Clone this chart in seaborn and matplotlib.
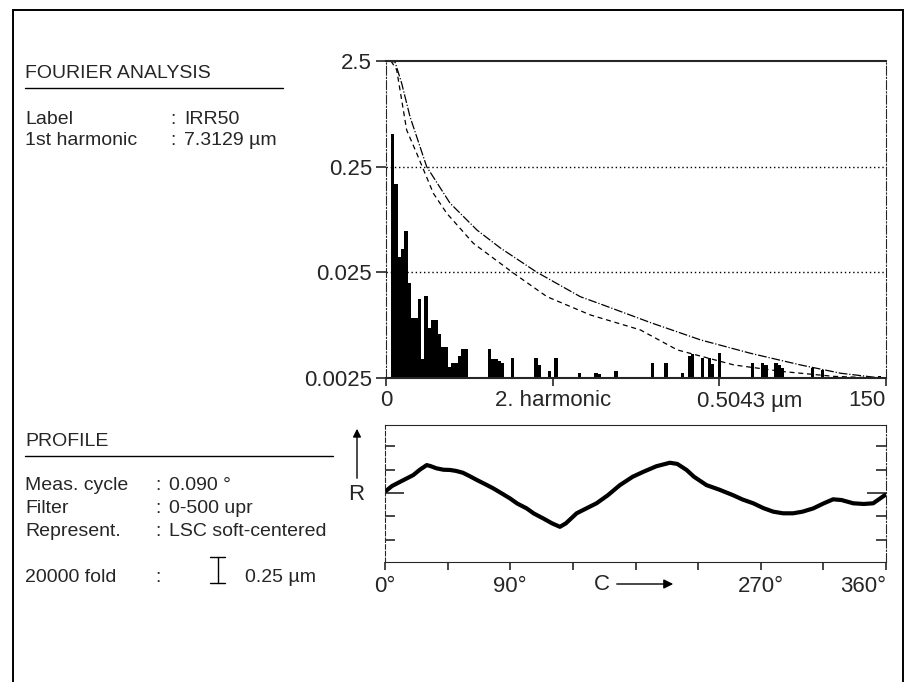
import matplotlib
matplotlib.use('Agg')
import matplotlib.pyplot as plt
from matplotlib.lines import Line2D
from matplotlib.patches import Rectangle
from matplotlib.ticker import NullLocator
import seaborn as sns

sns.set_style('ticks')
plt.rcParams['font.family'] = ['Liberation Sans', 'DejaVu Sans']
plt.rcParams['font.size'] = 14

# --- Fourier spectrum (harmonic number -> amplitude in um)
harmonics = [2, 3, 4, 5, 6, 7, 8, 9, 10, 11, 12, 13, 14, 15, 16, 17, 18, 19, 20,
             21, 22, 23, 24, 31, 32, 33, 34, 35, 38, 45, 46, 49, 51, 58, 63, 64,
             69, 80, 84, 89, 91, 92, 95, 97, 98, 100, 110, 113, 114, 117, 118,
             119, 128, 131, 148]
amplitudes = [0.5043, 0.17, 0.035, 0.042, 0.061, 0.0197, 0.0092, 0.0092, 0.014,
              0.0038, 0.0149, 0.0074, 0.0088, 0.0088, 0.0065, 0.0049, 0.0049,
              0.0032, 0.0035, 0.0035, 0.0040, 0.0047, 0.0047, 0.0047, 0.0038,
              0.0038, 0.0036, 0.0035, 0.0039, 0.0039, 0.0033, 0.0029, 0.0039,
              0.0028, 0.0028, 0.0027, 0.0029, 0.0035, 0.0035, 0.0028, 0.0040,
              0.0042, 0.0039, 0.0039, 0.0034, 0.0043, 0.0035, 0.0035, 0.0033,
              0.0035, 0.0033, 0.0031, 0.0031, 0.0030, 0.0026]

# limit curves
upper_h = [0.5, 2.7, 4.7, 7.2, 12.2, 19.2, 27.3, 34.3, 45.3, 58.3, 64.3, 79.4,
           94.4, 109.4, 124.4, 136.5, 148.5]
upper_v = [2.5, 2.45, 1.54, 0.743, 0.25, 0.113, 0.0628, 0.0425, 0.025, 0.0147,
           0.01255, 0.00835, 0.00573, 0.00428, 0.00332, 0.00277, 0.0025]
lower_h = [1.5, 3.2, 6.2, 9.2, 14.2, 18.2, 26.2, 38.3, 48.3, 61.3, 76.3, 87.4,
           104.4, 119.4, 134.4, 147.5]
lower_v = [2.5, 2.06, 0.555, 0.335, 0.14, 0.0907, 0.0471, 0.0245, 0.0147,
           0.00988, 0.00713, 0.00461, 0.00332, 0.00287, 0.00259, 0.0025]

y_ticks = [0.0025, 0.025, 0.25, 2.5]
y_ticklabels = ['0.0025', '0.025', '0.25', '2.5']
x_ticks = [0, 50, 100, 150]
x_ticklabels = ['0', '2. harmonic', '', '150']

# --- roundness profile (angle in deg -> deviation, in scale divisions)
angle = [0.7, 5, 10.8, 20.3, 25, 30, 33, 37, 42, 46.7, 51, 56, 61, 66, 72, 77.8,
         84, 89.8, 95, 101.8, 107, 113.7, 120, 125.7, 130, 137.7, 145, 152, 160,
         168.8, 178, 185.6, 195, 204.7, 210, 216.7, 222, 231, 240, 250, 257,
         264.6, 272, 279, 286, 293.3, 300, 307.7, 315, 322, 328, 336.4, 344,
         350.8, 359.2]
deviation = [0.09, 0.3, 0.48, 0.77, 1.0, 1.2, 1.15, 1.06, 1.0, 0.99, 0.95, 0.87,
             0.72, 0.56, 0.38, 0.2, -0.02, -0.23, -0.45, -0.66, -0.88, -1.09,
             -1.3, -1.45, -1.3, -0.87, -0.65, -0.44, -0.1, 0.34, 0.7, 0.91, 1.15,
             1.3, 1.25, 0.99, 0.7, 0.34, 0.15, -0.09, -0.28, -0.44, -0.65, -0.8,
             -0.87, -0.87, -0.8, -0.66, -0.45, -0.27, -0.3, -0.44, -0.47, -0.44,
             -0.09]
deg_ticks = [0, 45, 90, 135, 180, 225, 270, 315, 360]
deg_labels = ['0°', '', '90°', '', '', '', '270°', '', '360°']

W, H = 905, 682


def fx(px):
    return px / W


def fy(py):
    return 1 - py / H


fig = plt.figure(figsize=(W / 100, H / 100), dpi=100)

# outer frame
fig.add_artist(Rectangle((fx(13), -0.05), fx(903) - fx(13), fy(10) + 0.05,
                         transform=fig.transFigure, fill=False, lw=1.4, color='black'))

# ---------------- Fourier plot
ax = fig.add_axes([fx(386), fy(378), fx(886) - fx(386), fy(61) - fy(378)])
sns.barplot(x=harmonics, y=amplitudes, native_scale=True, width=1, color='black',
            saturation=1, errorbar=None, linewidth=0, ax=ax)
sns.lineplot(x=upper_h, y=upper_v, color='black', lw=0.9,
             linestyle=(0, (7, 1.5, 1, 1.5)), ax=ax)
sns.lineplot(x=lower_h, y=lower_v, color='black', lw=0.9,
             linestyle=(0, (4, 3)), ax=ax)
ax.set_yscale('log')
ax.set_ylim(0.0025, 2.5)
ax.set_xlim(0, 150)
for v in (0.25, 0.025):
    ax.axhline(v, color='black', lw=1, ls=(0, (1, 2)))
ax.set_yticks(y_ticks)
ax.set_yticklabels(y_ticklabels)
ax.yaxis.set_minor_locator(NullLocator())
ax.set_xticks(x_ticks)
ax.set_xticklabels(x_ticklabels)
ax.get_xticklabels()[3].set_ha('right')
ax.tick_params(axis='y', length=7, width=1.2, pad=3, labelsize=16)
ax.tick_params(axis='x', length=6, width=1.2, pad=3, labelsize=16)
ax.annotate('0.5043 µm', xy=(100, 0), xycoords=('data', 'axes fraction'),
            xytext=(30, -13), textcoords='offset pixels', ha='center', va='top',
            fontsize=16)
ax.spines['left'].set_linestyle((0, (8, 2, 1, 2)))
ax.spines['right'].set_linestyle((0, (8, 2, 1, 2)))
for s in ('top', 'bottom'):
    ax.spines[s].set_linewidth(1.5)
ax.set_xlabel('')
ax.set_ylabel('')

# ---------------- profile plot
ax2 = fig.add_axes([fx(385), fy(562), fx(886) - fx(385), fy(425) - fy(562)])
sns.lineplot(x=angle, y=deviation, color='black', lw=3, ax=ax2)
ax2.set_xlim(0, 360)
ax2.set_ylim(-2.96, 2.92)
ax2.set_xticks(deg_ticks)
ax2.set_xticklabels(deg_labels)
ax2.get_xticklabels()[8].set_ha('right')
ax2.tick_params(axis='x', length=6, width=1.2, pad=4, labelsize=16)
ax2.set_yticks([-2, -1, 1, 2])
ax2.set_yticklabels([])
ax2.set_yticks([0], minor=True)
ax2.tick_params(axis='y', which='major', direction='in', left=True, right=True,
                length=7, width=1.2)
ax2.tick_params(axis='y', which='minor', direction='in', left=True, right=True,
                length=14, width=1.2)
ax2.spines['left'].set_linestyle((0, (4, 2)))
ax2.spines['right'].set_linestyle((0, (8, 2, 1, 2)))
ax2.set_xlabel('')
ax2.set_ylabel('')

fig.text(fx(602), fy(585), 'C', ha='center', va='center', fontsize=16)
ax2.annotate('', xy=(fx(676), fy(584)), xytext=(fx(614), fy(584)),
             xycoords='figure fraction',
             arrowprops=dict(arrowstyle='-|>', color='black', lw=1, mutation_scale=14))
fig.text(fx(356), fy(495), 'R', ha='center', va='center', fontsize=16)
ax2.annotate('', xy=(fx(357), fy(426)), xytext=(fx(357), fy(481)),
             xycoords='figure fraction',
             arrowprops=dict(arrowstyle='-|>', color='black', lw=1, mutation_scale=12))

# ---------------- text blocks
fig.text(fx(25), fy(78), 'FOURIER ANALYSIS', va='baseline')
fig.add_artist(Line2D([fx(25), fx(283)], [fy(88), fy(88)], color='black', lw=1,
                      transform=fig.transFigure))
for label, value, y in [('Label', 'IRR50', 124), ('1st harmonic', '7.3129 µm', 145)]:
    fig.text(fx(25), fy(y), label, va='baseline')
    fig.text(fx(170), fy(y), ':', va='baseline')
    fig.text(fx(184), fy(y), value, va='baseline')

fig.text(fx(25), fy(446), 'PROFILE', va='baseline')
fig.add_artist(Line2D([fx(25), fx(333)], [fy(456), fy(456)], color='black', lw=1,
                      transform=fig.transFigure))
for label, value, y in [('Meas. cycle', '0.090 °', 490), ('Filter', '0-500 upr', 513),
                        ('Represent.', 'LSC soft-centered', 536)]:
    fig.text(fx(25), fy(y), label, va='baseline')
    fig.text(fx(155), fy(y), ':', va='baseline')
    fig.text(fx(169), fy(y), value, va='baseline')
fig.text(fx(25), fy(582), '20000 fold', va='baseline')
fig.text(fx(155), fy(582), ':', va='baseline')
fig.text(fx(245), fy(582), '0.25 µm', va='baseline')
for xs, ys in [([217.5, 217.5], [557, 583]), ([210, 225], [557, 557]), ([210, 225], [583, 583])]:
    fig.add_artist(Line2D([fx(x) for x in xs], [fy(y) for y in ys], color='black',
                          lw=1, transform=fig.transFigure))

fig.savefig('out.png', dpi=100)
